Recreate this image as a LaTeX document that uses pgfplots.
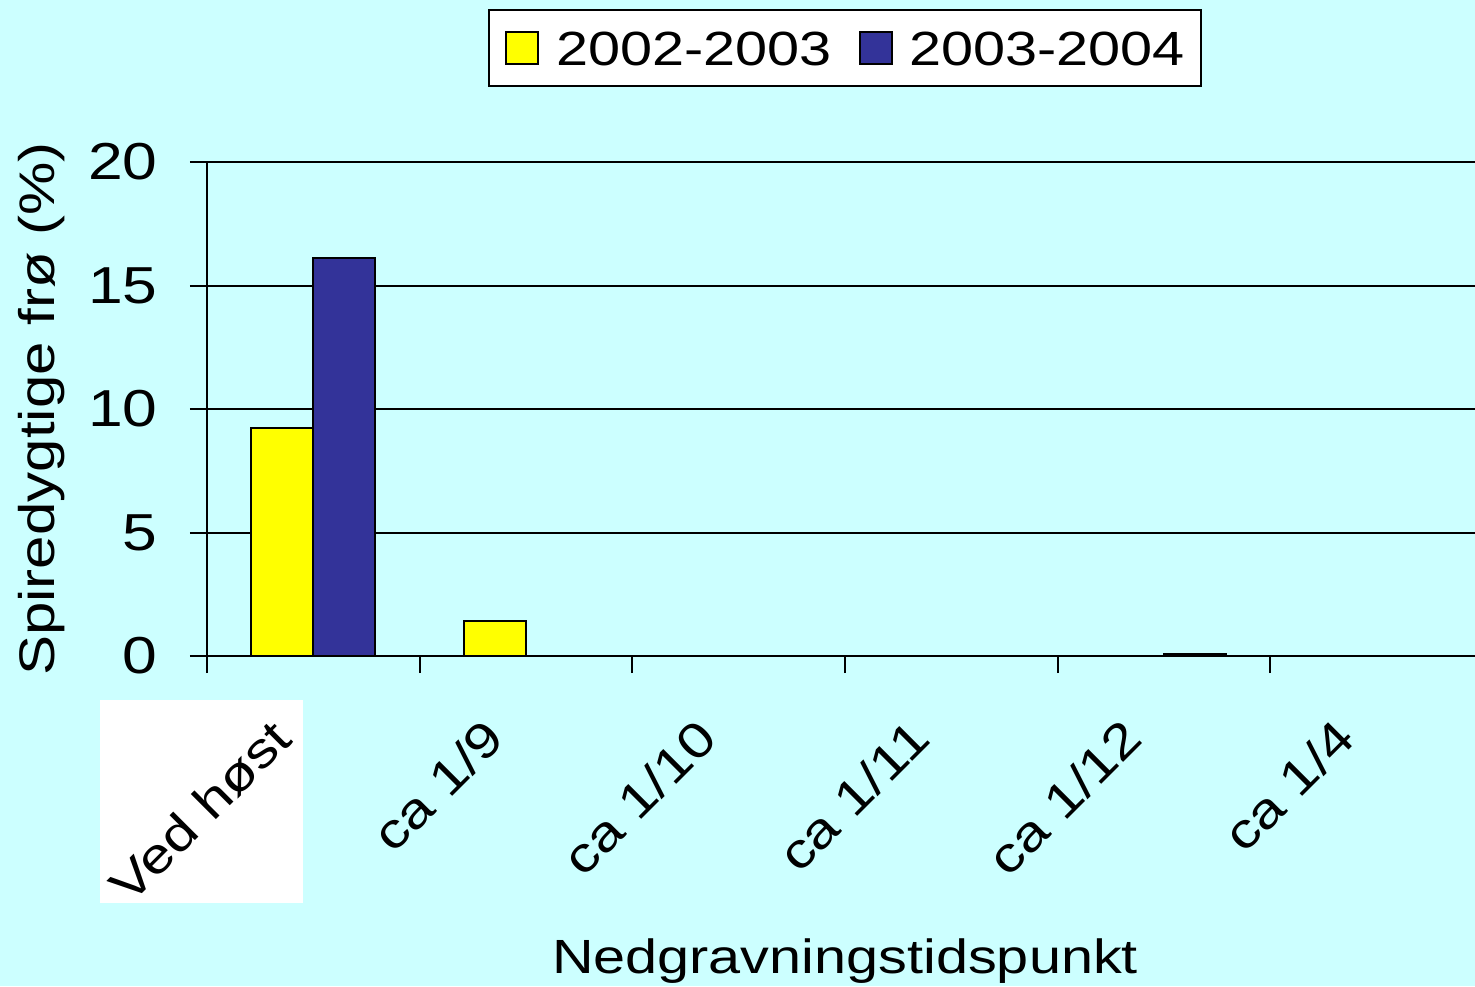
\documentclass[border=0pt]{standalone}
\usepackage{pgfplots}
\pgfplotsset{compat=1.18}
\usepackage{fontspec}
\setmainfont[FakeStretch=1.2]{Liberation Sans}
\definecolor{bgc}{HTML}{CCFFFF}
\definecolor{ylw}{HTML}{FFFF00}
\definecolor{blu}{HTML}{333399}
\begin{document}
\begin{tikzpicture}[x=1pt,y=1pt]
\clip (0,0) rectangle (737.5,493);
\fill[bgc] (0,0) rectangle (737.5,493);
\fill[white] (50,41.5) rectangle (151.5,143);
\begin{axis}[
  at={(103.5pt,165pt)}, anchor=south west,
  scale only axis, width=638pt, height=247pt,
  xmin=-0.5, xmax=5.5, ymin=0, ymax=20,
  enlargelimits=false,
  axis x line*=bottom, axis y line*=left,
  axis line style={-, line width=1pt, black},
  tick align=outside, major tick length=8.5pt,
  tick style={black, line width=1pt},
  xtick={-0.5,0.5,1.5,2.5,3.5,4.5,5.5},
  x tick label as interval,
  xticklabels={Ved høst, ca 1/9, ca 1/10, ca 1/11, ca 1/12, ca 1/4},
  xticklabel style={font=\fontsize{24.5}{28}\selectfont, inner sep=0pt,
    xshift=-15.5pt, yshift=-28pt, rotate=45, anchor=east},
  ytick={0,5,10,15,20},
  yticklabel style={font=\fontsize{26}{30}\selectfont, inner sep=0pt, xshift=-16pt},
  /pgf/number format/assume math mode=true,
  ymajorgrids, grid style={black, line width=1pt},
  ylabel={Spiredygtige frø (\%)},
  ylabel style={font=\fontsize{25}{28}\selectfont, at={(axis description cs:-0.1293,0.5)}, anchor=center, rotate=0},
  xlabel={Nedgravningstidspunkt},
  xlabel style={font=\fontsize{24}{28}\selectfont, at={(axis description cs:0.5,0)}, anchor=base, yshift=-158.5pt},
  ybar=0pt, bar width=31pt,
  legend columns=2,
  legend image code/.code={\draw[#1, line width=1pt] (0pt,-8pt) rectangle (16pt,8pt);},
  legend style={at={(axis description cs:0.5,1)}, anchor=center, yshift=57pt,
    draw=black, line width=0.8pt, fill=white, font=\fontsize{24}{28}\selectfont,
    inner xsep=8pt, inner ysep=10.5pt,
    nodes={inner sep=0pt, text height=17pt, text depth=0pt},
    /tikz/every odd column/.append style={column sep=8.5pt},
    /tikz/every even column/.append style={column sep=13.5pt}},
]
\addplot[fill=ylw, draw=black, line width=1pt] coordinates {(0,9.25) (1,1.4)};
\addplot[fill=blu, draw=black, line width=1pt] coordinates {(0,16.1) (4,0.1)};
\legend{2002-2003, 2003-2004}
\end{axis}
\end{tikzpicture}
\end{document}
